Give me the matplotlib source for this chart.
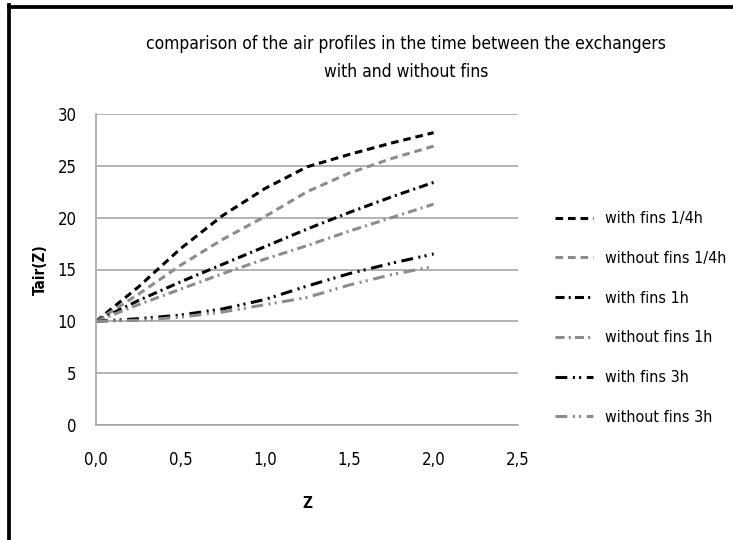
import matplotlib
matplotlib.use('Agg')
import matplotlib.pyplot as plt
from matplotlib.lines import Line2D

plt.rcParams['font.family'] = ['Liberation Sans Narrow', 'DejaVu Sans']
plt.rcParams['font.stretch'] = 'condensed'
plt.rcParams['lines.scale_dashes'] = False

# data
z = [0.0, 0.25, 0.5, 0.75, 1.0, 1.25, 1.5, 1.75, 2.0]
with_fins_q = [10, 13.3, 17.0, 20.2, 22.8, 24.9, 26.1, 27.2, 28.2]
without_fins_q = [10, 12.6, 15.4, 17.9, 20.1, 22.5, 24.3, 25.7, 26.9]
with_fins_1h = [10, 12.0, 13.8, 15.5, 17.2, 18.9, 20.5, 22.0, 23.4]
without_fins_1h = [10, 11.6, 13.1, 14.6, 16.0, 17.3, 18.7, 20.0, 21.3]
with_fins_3h = [10, 10.25, 10.6, 11.2, 12.1, 13.4, 14.6, 15.6, 16.5]
without_fins_3h = [10, 10.1, 10.4, 10.9, 11.6, 12.3, 13.5, 14.5, 15.3]

labels = ['with fins 1/4h', 'without fins 1/4h', 'with fins 1h',
          'without fins 1h', 'with fins 3h', 'without fins 3h']
series = [with_fins_q, without_fins_q, with_fins_1h,
          without_fins_1h, with_fins_3h, without_fins_3h]
x_ticks = [0.0, 0.5, 1.0, 1.5, 2.0, 2.5]
x_ticklabels = ['0,0', '0,5', '1,0', '1,5', '2,0', '2,5']
y_ticks = [0, 5, 10, 15, 20, 25, 30]

black = '#000000'
grey = '#8c8c8c'
dash = (0, (5.5, 3.5))
dashdot = (0, (6.5, 3, 1.5, 3))
dashdotdot = (0, (8.5, 4, 1.5, 3, 1.5, 4))
styles = [(black, dash), (grey, dash), (black, dashdot),
          (grey, dashdot), (black, dashdotdot), (grey, dashdotdot)]

fig = plt.figure(figsize=(7.33, 5.40), dpi=100)
ax = fig.add_axes([96/733, 1-425/540, (518-96)/733, (425-114)/540])

for vals, lab, (col, ls) in zip(series, labels, styles):
    ax.plot(z, vals, color=col, linestyle=ls, linewidth=2.2, label=lab)

ax.set_xlim(0, 2.5)
ax.set_ylim(0, 30)
ax.set_xticks(x_ticks)
ax.set_xticklabels(x_ticklabels)
ax.set_yticks(y_ticks)
ax.tick_params(length=0, labelsize=12)
ax.tick_params(axis='x', pad=19)
ax.tick_params(axis='y', pad=14)
ax.grid(axis='y', color='#a6a6a6', linewidth=1.2)
ax.set_axisbelow(True)
for s in ['top', 'right']:
    ax.spines[s].set_visible(False)
for s in ['left', 'bottom']:
    ax.spines[s].set_color('#a6a6a6')
    ax.spines[s].set_linewidth(1.2)

fig.text(406/733, 1-58/540,
         'comparison of the air profiles in the time between the exchangers\nwith and without fins',
         ha='center', va='center', fontsize=12.5, linespacing=1.75)
fig.text(40/733, 0.5, 'Tair(Z)', rotation=90, ha='center', va='center',
         fontsize=11, fontweight='bold')
fig.text(307/733, 1-504/540, 'Z', ha='center', va='center',
         fontsize=11, fontweight='bold')

fig.legend(loc='center left', bbox_to_anchor=(555/733, 1-318/540),
           bbox_transform=fig.transFigure, frameon=False, fontsize=11.5,
           handlelength=2.4, handletextpad=0.7, labelspacing=1.55,
           borderpad=0, borderaxespad=0)

# black frame on top and left of the chart
fig.add_artist(Line2D([8.8/733, 1], [1-6.5/540, 1-6.5/540], color='black',
                      linewidth=2.7, transform=fig.transFigure))
fig.add_artist(Line2D([8.8/733, 8.8/733], [0, 1-5/540], color='black',
                      linewidth=2.7, transform=fig.transFigure))

fig.savefig('out.png', dpi=100)
